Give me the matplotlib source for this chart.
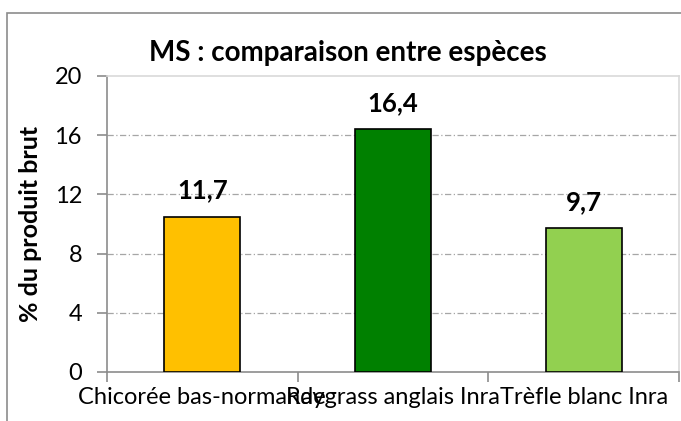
import matplotlib
matplotlib.use("Agg")
import matplotlib.pyplot as plt
from matplotlib.patches import Rectangle

# data
especes = ["Chicorée bas-normande", "Raygrass anglais Inra", "Trèfle blanc Inra"]
ms_pct = [10.5, 16.4, 9.7]
etiquettes = ["11,7", "16,4", "9,7"]
couleurs = ["#FFC000", "#008000", "#92D050"]
yticks = [0, 4, 8, 12, 16, 20]

plt.rcParams["font.family"] = ["Lato", "DejaVu Sans"]

fig = plt.figure(figsize=(6.81, 4.21), dpi=100)
ax = fig.add_axes([107/681, 1 - 372/421, 572/681, 296/421])

# outer chart frame (cut off on right and bottom)
fig.patches.append(Rectangle((7/681, -0.2), 1.2, 1.2 - 13/421,
                             transform=fig.transFigure, fill=False,
                             edgecolor="#8c8c8c", lw=1.2, zorder=0))

x = range(len(especes))
ax.bar(x, ms_pct, width=0.4, color=couleurs, edgecolor="black", lw=1.2, zorder=3)

for xi, v, lab in zip(x, ms_pct, etiquettes):
    ax.annotate(lab, (xi, v), xytext=(0, 13), textcoords="offset points",
                ha="center", va="baseline", fontsize=18.5, fontweight="bold")

ax.set_xlim(-0.5, len(especes) - 0.5)
ax.set_ylim(0, 20)
ax.set_yticks(yticks)
ax.set_yticklabels([str(t) for t in yticks], fontsize=17)
ax.set_xticks(x)
ax.set_xticklabels(especes, fontsize=17)
ax.tick_params(axis="x", length=0, pad=11)
ax.tick_params(axis="y", length=7, color="#8c8c8c", width=1.2, pad=11)

# category boundary ticks
ax.set_xticks([-0.5, 0.5, 1.5, 2.5], minor=True)
ax.tick_params(axis="x", which="minor", length=7, color="#8c8c8c", width=1.2)

for t in yticks[1:-1]:
    ax.axhline(t, color="#a6a6a6", lw=0.9, ls=(0, (5, 2, 1, 2)), zorder=1)

for s in ["left", "bottom"]:
    ax.spines[s].set_color("#8c8c8c")
    ax.spines[s].set_linewidth(1.2)
for s in ["top", "right"]:
    ax.spines[s].set_color("#d9d9d9")
    ax.spines[s].set_linewidth(1.2)

ax.set_ylabel("% du produit brut", fontsize=18, fontweight="bold", labelpad=9)
fig.text(0.511, 1 - 53/421, "MS : comparaison entre espèces", ha="center",
         va="center", fontsize=20, fontweight="bold")

fig.savefig("out.png", dpi=100)
